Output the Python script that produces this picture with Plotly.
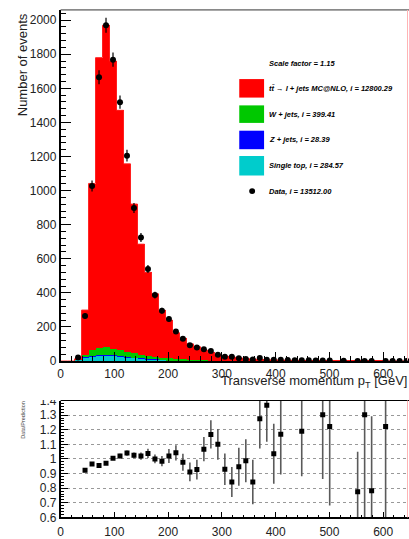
import numpy as np
import plotly.graph_objects as go

# ---------------- data ----------------
# transverse momentum bins: 50 bins of 13 GeV between 0 and 650 GeV
bin_centers = [6.5, 19.5, 32.5, 45.5, 58.5, 71.5, 84.5, 97.5, 110.5, 123.5,
               136.5, 149.5, 162.5, 175.5, 188.5, 201.5, 214.5, 227.5, 240.5, 253.5,
               266.5, 279.5, 292.5, 305.5, 318.5, 331.5, 344.5, 357.5, 370.5, 383.5,
               396.5, 409.5, 422.5, 435.5, 448.5, 461.5, 474.5, 487.5, 500.5, 513.5,
               526.5, 539.5, 552.5, 565.5, 578.5, 591.5, 604.5, 617.5, 630.5, 643.5]
bin_width = 13

single_top = [0, 0, 8, 20, 30, 34, 34, 31, 27, 23,
              19, 15, 12, 9, 7, 5.5, 4, 3, 2.2, 1.7,
              1.3, 1.0, 0.8, 0.6, 0.5, 0.4, 0.3, 0.25, 0.2, 0.15,
              0.12, 0.1, 0.08, 0.07, 0.06, 0.05, 0.04, 0.04, 0.03, 0.03,
              0.03, 0.02, 0.02, 0.02, 0.02, 0.01, 0.01, 0.01, 0.01, 0.01]
z_jets = [0, 0, 0.4, 1.5, 2.5, 3, 3, 2.8, 2.5, 2.2,
          1.9, 1.6, 1.3, 1.0, 0.8, 0.6, 0.5, 0.4, 0.3, 0.25,
          0.2, 0.15, 0.12, 0.1, 0.08, 0.06, 0.05, 0.04, 0.04, 0.03,
          0.03, 0.02, 0.02, 0.02, 0.02, 0.01, 0.01, 0.01, 0.01, 0.01,
          0.01, 0.01, 0.01, 0.01, 0.01, 0.01, 0.01, 0.01, 0.01, 0.01]
w_jets = [0, 0, 2, 15, 30, 42, 44, 38, 34, 30,
          26, 22, 18, 15, 12, 10, 8, 6.5, 5, 4,
          3.2, 2.6, 2.0, 1.6, 1.3, 1.1, 0.9, 0.75, 0.6, 0.5,
          0.45, 0.4, 0.35, 0.3, 0.27, 0.24, 0.21, 0.19, 0.17, 0.15,
          0.14, 0.13, 0.12, 0.11, 0.1, 0.09, 0.08, 0.07, 0.07, 0.06]
ttbar = [0, 0, 2.6, 262.5, 979.5, 1701, 1889, 1688, 1407.5, 1102,
         874, 647, 489, 370, 278, 224, 154.5, 123, 93.5, 79,
         60.3, 47.2, 35.1, 26.7, 22.1, 17.4, 13.7, 11.0, 9.2, 7.3,
         6.4, 5.5, 4.5, 3.9, 3.3, 2.9, 2.5, 2.1, 1.85, 1.6,
         1.4, 1.2, 1.1, 0.95, 0.85, 0.78, 0.7, 0.6, 0.52, 0.48]
data_counts = [0, 0, 21, 265, 1027, 1665, 1970, 1768, 1519, 1205,
               898, 725, 540, 387, 295, 246, 173, 131, 92, 79,
               69, 59, 37, 25, 25, 17, 12, 9, 18, 8,
               8, 7, 6, 5, 4, 4, 3, 3, 3, 0,
               2, 0, 1, 1, 1, 0, 1, 1, 1, 1]

# data / prediction
ratio_x = [45.5, 58.5, 71.5, 84.5, 97.5, 110.5, 123.5, 136.5, 149.5, 162.5,
           175.5, 188.5, 201.5, 214.5, 227.5, 240.5, 253.5, 266.5, 279.5, 292.5,
           305.5, 318.5, 331.5, 344.5, 357.5, 370.5, 383.5, 396.5, 409.5, 448.5,
           487.5, 500.5, 552.5, 565.5, 578.5, 604.5]
ratio_val = [0.922, 0.965, 0.955, 0.971, 1.004, 1.02, 1.04, 1.025, 1.02, 1.038,
             1.0, 0.985, 1.02, 1.042, 0.978, 0.911, 0.927, 1.067, 1.168, 1.10,
             0.929, 0.842, 0.947, 0.987, 0.842, 1.276, 1.367, 1.036, 1.169, 1.189,
             1.302, 1.222, 0.776, 1.302, 0.782, 1.222]
ratio_err = [0.012, 0.012, 0.01, 0.01, 0.012, 0.015, 0.018, 0.02, 0.025, 0.032,
             0.03, 0.035, 0.048, 0.052, 0.058, 0.064, 0.067, 0.083, 0.097, 0.105,
             0.108, 0.103, 0.13, 0.147, 0.152, 0.205, 0.25, 0.205, 0.276, 0.307,
             0.44, 0.54, 0.273, 0.8, 0.51, 0.7]

scale_factor = "1.15"
legend_names = ["tt\u0304 \u2192 l + jets MC@NLO", "W + jets", "Z + jets", "Single top", "Data"]
legend_integrals = ["12800.29", "399.41", "28.39", "284.57", "13512.00"]
legend_colors = ["#ff0000", "#00c800", "#0000ff", "#00cccc", "black"]

# ---------------- layout helpers (pixel -> paper) ----------------
W, H = 409, 539


def px(x):
    return x / W


def py(y):
    return 1 - y / H


FONT = "Liberation Sans, Arial, sans-serif"
TXT = "#222222"

fig = go.Figure()

# stacked simulation
stack = [("Single top", single_top, "#00cccc"),
         ("Z + jets", z_jets, "#0000ff"),
         ("W + jets", w_jets, "#00c800"),
         ("ttbar", ttbar, "#ff0000")]
for name, vals, col in stack:
    fig.add_trace(go.Bar(x=bin_centers, y=vals, width=bin_width, name=name,
                         marker=dict(color=col, line=dict(width=0)),
                         xaxis="x", yaxis="y", showlegend=False))

# outline of the stack (also drawn along empty bins)
total = np.array(single_top) + np.array(z_jets) + np.array(w_jets) + np.array(ttbar)
edges = [c - bin_width / 2 for c in bin_centers] + [bin_centers[-1] + bin_width / 2]
fig.add_trace(go.Scatter(x=edges, y=list(total) + [total[-1]], mode="lines",
                         line=dict(color="#ff2020", width=1, shape="hv"),
                         xaxis="x", yaxis="y", showlegend=False, hoverinfo="skip"))

# data points with Poisson errors
dx = [c for c, n in zip(bin_centers, data_counts) if n > 0]
dy = [n for n in data_counts if n > 0]
fig.add_trace(go.Scatter(x=dx, y=dy, mode="markers",
                         marker=dict(color="black", size=6),
                         error_y=dict(type="data", array=list(np.sqrt(dy)), color="black",
                                      thickness=1.2, width=0),
                         xaxis="x", yaxis="y", showlegend=False))

# ratio panel
fig.add_trace(go.Scatter(x=ratio_x, y=ratio_val, mode="markers",
                         marker=dict(color="black", size=5, symbol="square"),
                         error_y=dict(type="data", array=ratio_err, color="#5a5a5a",
                                      thickness=1.6, width=0),
                         error_x=dict(type="constant", value=3, color="#5a5a5a",
                                      thickness=1, width=0),
                         xaxis="x2", yaxis="y2", showlegend=False))

xdom = [px(58), 1.0]
xr = [0, 648]
common_x = dict(range=xr, domain=xdom, showline=True, linecolor="black", linewidth=1.5,
                ticks="inside", tickcolor="black", tickwidth=1, dtick=100, tick0=0,
                showgrid=False, zeroline=False,
                tickfont=dict(family=FONT, size=12, color=TXT))

fig.update_layout(
    width=W, height=H, autosize=False,
    margin=dict(l=0, r=0, t=0, b=0),
    paper_bgcolor="white", plot_bgcolor="white",
    barmode="stack", bargap=0,
    xaxis=dict(**common_x, anchor="y", ticklen=9, ticklabelstandoff=1,
               minor=dict(ticks="inside", ticklen=5, dtick=20, tickcolor="black")),
    yaxis=dict(domain=[py(363.5), py(3)], range=[0, 2060], anchor="x",
               showline=True, linecolor="black", linewidth=1.5,
               ticks="inside", ticklen=11, tickcolor="black", tickwidth=1,
               dtick=200, tick0=0, showgrid=False, zeroline=False,
               minor=dict(ticks="inside", ticklen=6, dtick=40, tickcolor="black"),
               tickfont=dict(family=FONT, size=12, color=TXT)),
    xaxis2=dict(**common_x, anchor="y2", ticklen=6, ticklabelstandoff=2,
                minor=dict(ticks="inside", ticklen=3, dtick=20, tickcolor="black")),
    yaxis2=dict(domain=[py(524), py(404)], range=[0.6, 1.4], anchor="x2",
                showline=True, linecolor="black", linewidth=1.5,
                ticks="inside", ticklen=8, tickcolor="black", tickwidth=1,
                dtick=0.1, tick0=0.6, zeroline=False,
                showgrid=True, gridcolor="#999999", griddash="dot", gridwidth=1,
                minor=dict(ticks="inside", ticklen=4, dtick=0.02, tickcolor="black",
                           showgrid=False),
                tickfont=dict(family=FONT, size=12, color=TXT)),
)

shapes = []
# frame lines
shapes.append(dict(type="line", xref="paper", yref="paper", x0=px(58), x1=1.0,
                   y0=py(3), y1=py(3), line=dict(color="#333333", width=1)))
shapes.append(dict(type="line", xref="paper", yref="paper", x0=px(58), x1=1.0,
                   y0=py(404), y1=py(404), line=dict(color="black", width=1.2)))
for y0, y1 in [(3, 363), (404, 524)]:
    shapes.append(dict(type="line", xref="paper", yref="paper", x0=px(407.5), x1=px(407.5),
                       y0=py(y0), y1=py(y1), line=dict(color="#ffb4b4", width=1)))
# the upper pad hides the top of the highest ratio label
shapes.append(dict(type="rect", xref="paper", yref="paper", x0=px(30), x1=px(56),
                   y0=py(386), y1=py(403.5), fillcolor="white", line=dict(width=0),
                   layer="above"))

# legend boxes
box_rows = [(74, 93), (101, 119), (127, 146), (153, 173)]
for (t, b), col in zip(box_rows, legend_colors[:4]):
    shapes.append(dict(type="rect", xref="paper", yref="paper", x0=px(238), x1=px(263),
                       y0=py(b), y1=py(t), fillcolor=col, line=dict(width=0)))
shapes.append(dict(type="circle", xref="paper", yref="paper", x0=px(248), x1=px(254),
                   y0=py(192), y1=py(186), fillcolor="black", line=dict(width=0)))
fig.update_layout(shapes=shapes)

ann = []
ann.append(dict(text="<b><i>Scale factor = %s</i></b>" % scale_factor, x=px(266), y=py(58)))
for yy, name, integ in zip([84, 110, 136, 163, 189], legend_names, legend_integrals):
    ann.append(dict(text="<b><i>%s, i = %s</i></b>" % (name, integ), x=px(266), y=py(yy)))
for a in ann:
    a.update(xref="paper", yref="paper", xanchor="left", yanchor="middle", showarrow=False,
             font=dict(family=FONT, size=7.5, color="black"))

ann.append(dict(text="Number of events", x=px(20), y=py(4), xref="paper", yref="paper",
                xanchor="center", yanchor="top", textangle=-90, showarrow=False,
                font=dict(family=FONT, size=13, color=TXT)))
ann.append(dict(text="Transverse momentum p<sub>T</sub> [GeV]", x=px(408.5), y=py(384),
                xref="paper", yref="paper", xanchor="right", yanchor="middle",
                showarrow=False, font=dict(family=FONT, size=13, color=TXT)))
ann.append(dict(text="Data/Prediction", x=px(20), y=py(424), xref="paper", yref="paper",
                xanchor="center", yanchor="middle", textangle=-90, showarrow=False,
                font=dict(family=FONT, size=5.5, color="#444444")))
fig.update_layout(annotations=ann)

fig.write_html("out.html")
